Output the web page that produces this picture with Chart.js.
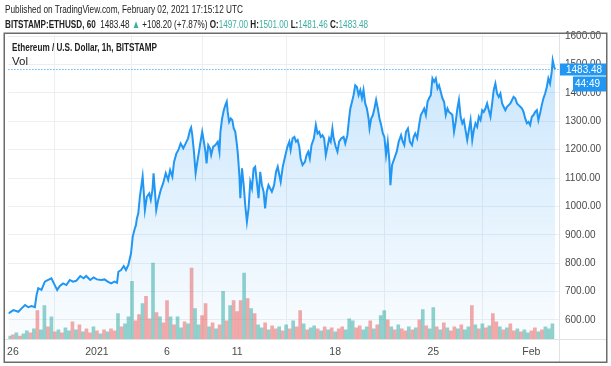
<!DOCTYPE html>
<html><head><meta charset="utf-8">
<script src="https://cdn.jsdelivr.net/npm/chart.js@4/dist/chart.umd.min.js"></script>
<style>
html,body{margin:0;padding:0;background:#fff;}
#wrap{position:relative;width:611px;height:366px;overflow:hidden;}
#c{position:absolute;left:0;top:0;}
.t{position:absolute;white-space:nowrap;font-family:"Liberation Sans",Arial,sans-serif;color:#222;transform-origin:0 0;}
.g{color:#3fae9f;}
b{font-weight:700;}
</style></head>
<body>
<div id="wrap">
<canvas id="c" width="611" height="366"></canvas>
<div class="t" id="h1" style="left:5px;top:2px;font-size:11.5px;line-height:14px;">Published on TradingView.com, February 02, 2021 17:15:12 UTC</div>
<div class="t" id="h2" style="left:5px;top:17px;font-size:11.5px;line-height:14px;"><b>BITSTAMP:ETHUSD, 60</b>&nbsp; 1483.48 <span class="g">▲</span> +108.20 (+7.87%) <b>O:</b><span class="g">1497.00</span> <b>H:</b><span class="g">1501.00</span> <b>L:</b><span class="g">1481.46</span> <b>C:</b><span class="g">1483.48</span></div>
<div class="t" id="l1" style="left:12px;top:40px;font-size:11.5px;line-height:14px;"><b>Ethereum / U.S. Dollar, 1h, BITSTAMP</b></div>
<div class="t" id="l2" style="left:12px;top:54px;font-size:11.5px;line-height:14px;">Vol</div>
</div>
<script>
// ---- data (days since Dec 26 2020 00:00 UTC) ----
const priceDays = [-0.32,0.04,0.39,0.62,0.87,1.10,1.33,1.57,1.69,1.81,2.04,2.28,2.52,2.75,2.99,3.16,3.35,3.58,3.82,4.06,4.29,4.52,4.81,5.05,5.23,5.52,5.76,5.99,6.30,6.54,6.77,7.01,7.25,7.43,7.53,7.72,7.91,8.07,8.24,8.43,8.55,8.67,8.78,8.85,8.95,9.06,9.16,9.26,9.33,9.42,9.56,9.73,9.84,9.96,10.04,10.13,10.23,10.37,10.55,10.72,10.91,11.08,11.22,11.38,11.50,11.67,11.81,11.97,12.16,12.33,12.50,12.64,12.72,12.80,12.92,13.04,13.16,13.28,13.39,13.51,13.63,13.74,13.82,13.94,14.06,14.15,14.29,14.45,14.62,14.74,14.81,14.93,15.05,15.16,15.26,15.33,15.43,15.55,15.66,15.76,15.87,15.99,16.06,16.16,16.23,16.35,16.47,16.58,16.70,16.82,16.94,17.06,17.18,17.29,17.41,17.53,17.65,17.77,17.89,18.00,18.12,18.24,18.35,18.48,18.64,18.78,18.90,19.06,19.11,19.26,19.42,19.59,19.73,19.82,19.96,20.09,20.20,20.32,20.44,20.53,20.67,20.84,20.96,21.08,21.19,21.31,21.48,21.62,21.74,21.86,21.97,22.09,22.21,22.33,22.45,22.57,22.68,22.80,22.89,23.04,23.16,23.28,23.44,23.60,23.72,23.87,23.99,24.08,24.20,24.31,24.43,24.55,24.67,24.79,24.91,25.02,25.14,25.26,25.38,25.45,25.57,25.69,25.80,25.92,26.04,26.16,26.28,26.40,26.51,26.63,26.75,26.87,26.94,27.06,27.22,27.39,27.53,27.70,27.82,27.93,28.05,28.19,28.33,28.48,28.60,28.71,28.85,28.99,29.11,29.23,29.35,29.47,29.59,29.70,29.82,29.94,30.06,30.18,30.30,30.41,30.53,30.65,30.77,30.89,31.01,31.12,31.24,31.36,31.48,31.60,31.72,31.83,31.95,32.07,32.18,32.30,32.42,32.54,32.66,32.78,32.89,33.01,33.13,33.25,33.37,33.49,33.60,33.72,33.84,33.96,34.08,34.20,34.31,34.43,34.55,34.67,34.79,34.91,35.02,35.14,35.26,35.38,35.50,35.62,35.73,35.85,35.97,36.09,36.21,36.33,36.44,36.56,36.68,36.79,36.91,37.03,37.15,37.27,37.39,37.50,37.62,37.74,37.86,37.98,38.10,38.21,38.33,38.45,38.52,38.62,38.69];
const priceValues = [623,635,629,641,653,645,649,645,688,712,706,735,741,747,723,706,720,729,723,741,735,738,755,747,755,741,750,743,741,743,735,729,735,731,770,776,790,776,794,835,893,917,934,958,976,1034,1069,1105,1058,987,1034,1046,1023,1058,1117,1058,987,1023,1058,1081,1117,1093,1128,1105,1157,1187,1199,1222,1205,1222,1240,1269,1278,1252,1193,1117,1157,1193,1228,1263,1228,1193,1152,1216,1205,1181,1210,1216,1228,1193,1263,1310,1339,1357,1369,1333,1298,1310,1304,1275,1263,1216,1181,1111,1029,1134,1075,1005,946,993,1087,1064,1134,1140,1087,1029,1122,1075,1052,993,1052,1075,1064,1052,1075,1122,1140,1099,1087,1140,1175,1210,1228,1199,1240,1245,1228,1234,1210,1169,1146,1157,1181,1193,1169,1216,1240,1287,1257,1263,1245,1251,1240,1181,1210,1240,1228,1275,1240,1210,1193,1228,1240,1245,1222,1251,1310,1345,1369,1392,1427,1421,1392,1410,1381,1410,1363,1345,1310,1275,1310,1322,1345,1375,1345,1310,1287,1257,1245,1181,1228,1157,1075,1146,1169,1193,1228,1251,1228,1216,1263,1275,1228,1216,1245,1257,1240,1287,1322,1333,1345,1322,1369,1381,1392,1451,1439,1451,1416,1427,1404,1381,1369,1322,1345,1333,1328,1322,1263,1298,1345,1375,1316,1293,1304,1269,1234,1269,1304,1234,1269,1293,1281,1316,1304,1339,1333,1345,1363,1339,1316,1363,1410,1433,1398,1386,1398,1363,1351,1339,1351,1357,1363,1375,1386,1381,1363,1357,1351,1345,1333,1310,1293,1298,1287,1316,1322,1333,1339,1304,1328,1357,1381,1398,1421,1451,1433,1474,1515,1492,1483.48];
// volume, one bar per 6 hours starting Dec 25 18:00
const volStartDay = -0.25;
const volStepDay = 0.25;
const volumes = [3,4,6,3,5,8,6,10,28,9,33,12,22,7,9,6,11,8,17,9,14,7,10,6,12,8,5,9,7,10,8,25,12,15,22,57,18,24,35,42,20,75,26,22,16,38,22,14,22,11,17,15,70,30,14,23,35,12,16,10,14,47,18,33,38,27,38,65,40,30,25,14,11,16,9,13,10,12,8,14,10,18,12,28,15,9,11,13,10,8,12,9,11,7,10,12,9,20,18,11,13,9,12,18,10,14,23,28,19,12,9,14,10,8,12,9,11,19,29,13,10,31,12,9,16,11,8,12,10,14,9,12,33,14,10,15,11,13,25,17,12,9,11,15,8,10,7,9,6,8,11,7,9,12,10,15];
const volDir = "ududuududu"+"udududuudu"+"duddududud"+"duduuuddud"+"dududduduu"+"duduuddudu"+"dududddudu"+"duududdudu"+"dudduduudu"+"dududduuud"+"duududuudu"+"duddududud"+"uudududdud"+"uududududd"+"ududduduud"+"duduuu";
const yTicks = [600,700,800,900,1000,1100,1200,1300,1400,1500,1600];
const xTickDays = [0,6,11,16,23,30,37];
const xTickLabels = ["26","2021","6","11","18","25","Feb"];
const lastPrice = 1483.48;
const lastPriceLabel = "1483.48";
const countdownLabel = "44:49";

function fit(id,w){const el=document.getElementById(id);const r=el.getBoundingClientRect().width;el.style.transform='scaleX('+(w/r)+')';}
fit('h1',238);fit('h2',363);fit('l1',145);

const pricePts = priceDays.map((d,i)=>({x:d,y:priceValues[i]}));
const volPts = volumes.map((v,i)=>({x:volStartDay+i*volStepDay,y:v}));
const volColors = volumes.map((v,i)=>volDir[i]==='u'?'rgba(38,166,154,0.5)':'rgba(239,83,80,0.5)');

const overlay = {
  id:'overlay',
  afterDraw(chart){
    const ctx=chart.ctx, a=chart.chartArea, ys=chart.scales.y;
    ctx.save();
    ctx.strokeStyle='#dfe2e7';ctx.lineWidth=1;
    ctx.beginPath();ctx.moveTo(a.right+0.5,34);ctx.lineTo(a.right+0.5,362);ctx.stroke();
    ctx.beginPath();ctx.moveTo(5,a.bottom+0.5);ctx.lineTo(606,a.bottom+0.5);ctx.stroke();
    const py=Math.round(ys.getPixelForValue(lastPrice))+0.5;
    ctx.strokeStyle='#2196f3';ctx.setLineDash([1,2]);
    ctx.beginPath();ctx.moveTo(a.left,py);ctx.lineTo(a.right,py);ctx.stroke();
    ctx.setLineDash([]);
    ctx.fillStyle='#2196f3';
    ctx.fillRect(a.right+1,py-6,606-a.right-1,12);
    ctx.fillRect(a.right+14,py+7,606-a.right-14,15);
    ctx.fillStyle='#fff';ctx.font='10px "Liberation Sans", Arial, sans-serif';ctx.textBaseline='middle';ctx.textAlign='left';
    ctx.fillText(lastPriceLabel,a.right+7,py+0.5);
    ctx.fillText(countdownLabel,a.right+16,py+14.5);
    ctx.strokeStyle='#6b6b6b';ctx.lineWidth=1.5;
    ctx.strokeRect(4.25,33.25,602.5,329);
    ctx.restore();
  }
};

const ctx = document.getElementById('c').getContext('2d');
new Chart(ctx,{
  type:'line',
  data:{datasets:[
    {type:'line',data:pricePts,yAxisID:'y',borderColor:'#2196f3',borderWidth:2,pointRadius:0,tension:0,order:0,
     fill:'start',
     backgroundColor:(c)=>{const a=c.chart.chartArea;if(!a)return 'rgba(33,150,243,0.15)';const g=c.chart.ctx.createLinearGradient(0,a.top,0,a.bottom);g.addColorStop(0,'rgba(33,150,243,0.26)');g.addColorStop(1,'rgba(33,150,243,0.02)');return g;}},
    {type:'bar',data:volPts,yAxisID:'yv',backgroundColor:volColors,barThickness:3,order:1,borderWidth:0}
  ]},
  options:{
    responsive:false,animation:false,devicePixelRatio:1,
    layout:{padding:{left:5,top:35,right:5,bottom:4}},
    plugins:{legend:{display:false},tooltip:{enabled:false}},
    scales:{
      x:{type:'linear',min:-0.32,max:38.97,offset:false,
         afterBuildTicks:(s)=>{s.ticks=xTickDays.map(v=>({value:v}));},
         afterFit:(s)=>{s.height=23;},
         ticks:{autoSkip:false,maxRotation:0,padding:7,color:'#4a4a4a',font:{family:'"Liberation Sans", Arial, sans-serif',size:10.5},
           callback:(v)=>{const i=xTickDays.indexOf(v);return i>=0?xTickLabels[i]:'';}},
         grid:{color:'#eceff2',drawTicks:false},border:{display:false}},
      y:{position:'right',min:533,max:1604,
         afterBuildTicks:(s)=>{s.ticks=yTicks.map(v=>({value:v}));},
         afterFit:(s)=>{s.width=47;},
         ticks:{padding:6,color:'#4a4a4a',font:{family:'"Liberation Sans", Arial, sans-serif',size:10},callback:(v)=>Number(v).toFixed(2)},
         grid:{color:'#eceff2',drawTicks:false},border:{display:false}},
      yv:{display:false,min:0,max:300}
    }
  },
  plugins:[overlay]
});
</script>
</body></html>
